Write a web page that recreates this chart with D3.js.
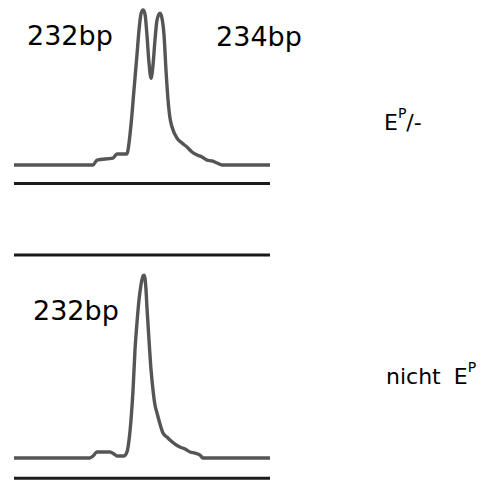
<!DOCTYPE html>
<html><head><meta charset="utf-8">
<script src="https://cdn.jsdelivr.net/npm/d3@7"></script>
<style>html,body{margin:0;padding:0;background:#fff;}svg{display:block;}</style>
</head><body>
<svg id="chart" width="486" height="480"></svg>
<script>
// Fragment size (bp) and relative fluorescence intensity
const traceTopBp = [217,226.26,226.73,228.6,229.07,230.24,230.36,230.71,231.06,231.41,231.65,231.88,232.12,232.35,232.58,232.82,233.06,233.29,233.52,233.76,234.11,234.34,234.58,234.81,235.05,235.28,235.52,236.1,236.69,237.27,237.86,238.45,239.03,239.62,240.2,240.79,241.38,247];
const traceTopVal = [0,0,3.2,4.5,7.1,7.1,9.7,25.8,48.4,71,87,97.4,100,97.4,84,66,56,64.5,80.6,93.5,98,94.8,83.9,61.3,42,30.3,24.5,17.4,14.2,11.6,8.4,6.5,5.2,3.2,2.6,1.3,0,0];
const traceBotBp = [217,225.9,226.26,226.73,228.25,228.72,229.07,229.89,230.24,230.48,230.71,230.95,231.18,231.41,231.65,231.88,232.12,232.23,232.35,232.47,232.58,232.82,233.06,233.29,233.52,233.76,234.11,234.46,234.93,235.28,235.87,236.45,237.04,237.63,238.21,238.8,239.15,247];
const traceBotVal = [0,0,1.3,3.9,3.9,2.6,1.3,1.3,3.9,11.6,24.5,43.9,69.7,87.1,102,111.6,117.4,118,116,108.4,97.4,76.1,56.8,43.9,34.2,29,21.9,16.1,13.5,11.6,9,7.1,5.8,3.9,3.2,1.9,0,0];
const peakLabelsTop = [{bp:232,text:"232bp"},{bp:234,text:"234bp"}];
const peakLabelsBot = [{bp:232,text:"232bp"}];
const sampleLabels = [["","E","P","/-"],["nicht ","E","P",""]];

const svg = d3.select("#chart");
const x = d3.scaleLinear().domain([217,247]).range([14,270]);
const yTop = d3.scaleLinear().domain([0,100]).range([165,10]);
const yBot = d3.scaleLinear().domain([0,100]).range([458,303]);

const traceColor = "#555555";
const lineGen = (y) => d3.line().x(d=>x(d[0])).y(d=>y(d[1])).curve(d3.curveMonotoneX);

function drawTrace(bps, vals, y){
  svg.append("path")
    .datum(bps.map((b,i)=>[b,vals[i]]))
    .attr("d", lineGen(y))
    .attr("fill","none")
    .attr("stroke",traceColor)
    .attr("stroke-width",3.4)
    .attr("stroke-linejoin","round");
}
drawTrace(traceTopBp, traceTopVal, yTop);
drawTrace(traceBotBp, traceBotVal, yBot);

// frame lines
function hline(yy){
  svg.append("line").attr("x1",x(217)).attr("x2",x(247))
    .attr("y1",yy).attr("y2",yy)
    .attr("stroke","#1a1a1a").attr("stroke-width",3);
}
hline(yTop(-12));
hline(yBot(131));
hline(yBot(-13));

const font = "'DejaVu Sans', Verdana, sans-serif";
// peak labels
svg.append("text").attr("x",x(232)-115).attr("y",45).attr("font-family",font).attr("font-size",27).text(peakLabelsTop[0].text);
svg.append("text").attr("x",x(234)+57).attr("y",46).attr("font-family",font).attr("font-size",27).text(peakLabelsTop[1].text);
svg.append("text").attr("x",x(232)-109).attr("y",320).attr("font-family",font).attr("font-size",27).text(peakLabelsBot[0].text);

function sampleLabel(parts, xx, yy, gap){
  const t = svg.append("text").attr("x",xx).attr("y",yy).attr("font-family",font).attr("font-size",22);
  if(parts[0]) t.append("tspan").text(parts[0]);
  t.append("tspan").attr("dx",gap).text(parts[1]);
  t.append("tspan").attr("dy",-12).attr("font-size",14).text(parts[2]);
  if(parts[3]) t.append("tspan").attr("dy",12).attr("font-size",22).text(parts[3]);
}
sampleLabel(sampleLabels[0], 384, 130, 0);
sampleLabel(sampleLabels[1], 386, 384, 6);
</script>
</body></html>
